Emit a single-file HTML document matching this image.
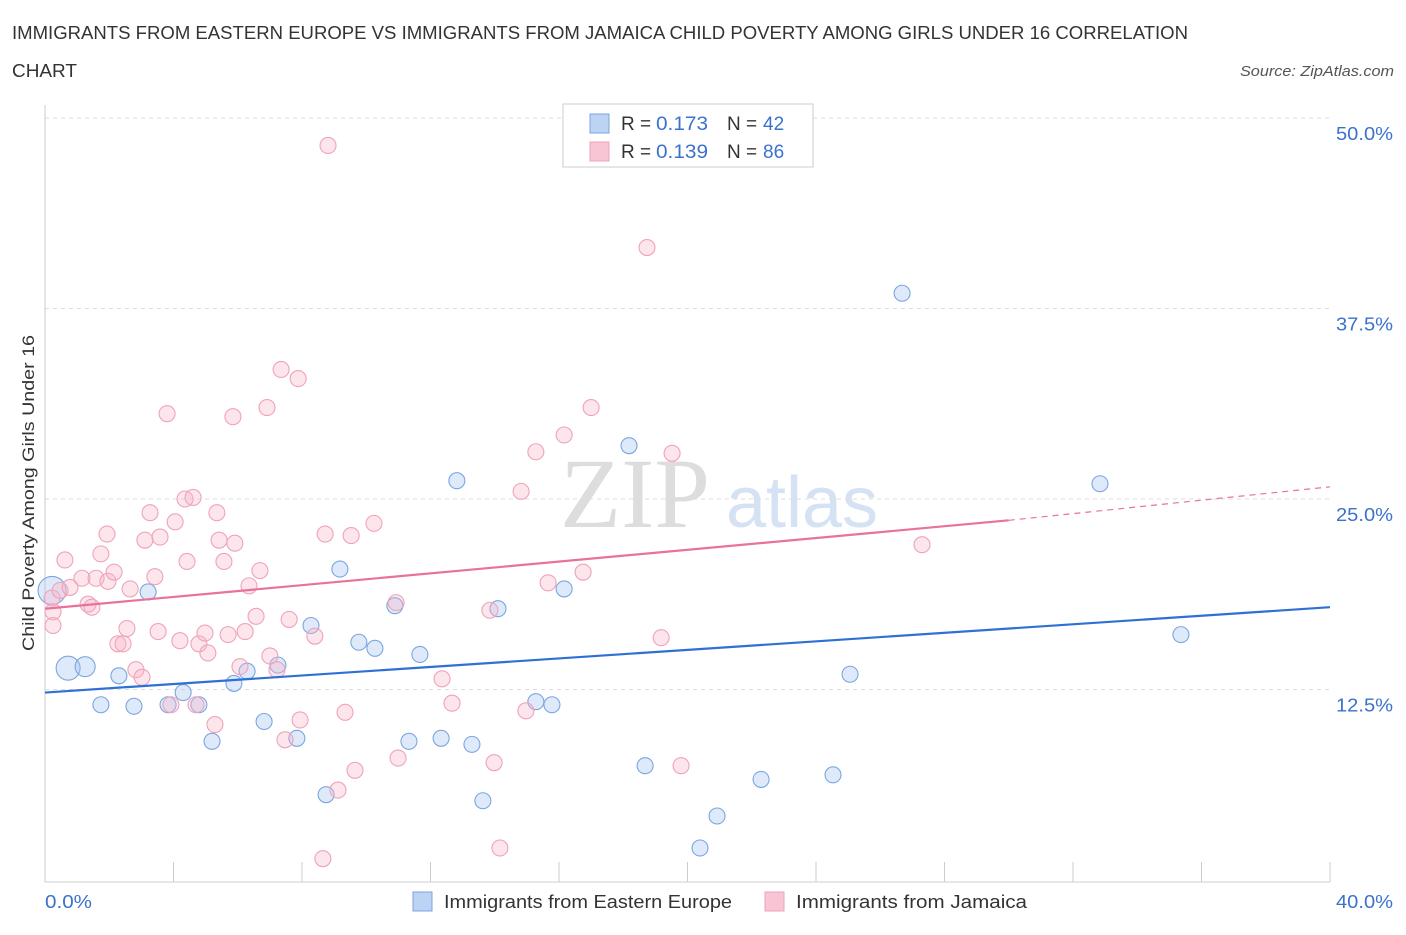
<!DOCTYPE html>
<html><head><meta charset="utf-8"><style>
body{margin:0;width:1406px;height:930px;background:#fff;font-family:"Liberation Sans",sans-serif;overflow:hidden}
</style></head><body>
<svg id="c" width="1406" height="930">
<text x="12" y="39" font-size="18" fill="#333" textLength="1176" lengthAdjust="spacingAndGlyphs">IMMIGRANTS FROM EASTERN EUROPE VS IMMIGRANTS FROM JAMAICA CHILD POVERTY AMONG GIRLS UNDER 16 CORRELATION</text>
<text x="12" y="77" font-size="18" fill="#333" textLength="65" lengthAdjust="spacingAndGlyphs">CHART</text>
<text x="1394" y="76" font-size="15" fill="#555" font-style="italic" text-anchor="end" textLength="154" lengthAdjust="spacingAndGlyphs">Source: ZipAtlas.com</text>
<text x="635" y="527" font-size="100" fill="#ddd" font-family="Liberation Serif,serif" text-anchor="middle">ZIP</text>
<text x="802" y="527" font-size="72" fill="#d4e2f3" text-anchor="middle">atlas</text>
<text transform="translate(34,493) rotate(-90)" font-size="17" fill="#333" text-anchor="middle" textLength="316" lengthAdjust="spacingAndGlyphs">Child Poverty Among Girls Under 16</text>
<text x="45" y="908" font-size="18" fill="#3a72cc" textLength="47" lengthAdjust="spacingAndGlyphs">0.0%</text>
<text x="1336" y="908" font-size="18" fill="#3a72cc" textLength="57" lengthAdjust="spacingAndGlyphs">40.0%</text>
<g id="grid"></g><g id="pts"></g><g id="lines"></g>
<g>
<rect x="563" y="104" width="250" height="63" fill="#fff" stroke="#ccc"/>
<rect x="590" y="114" width="19" height="19" fill="#bcd3f3" stroke="#7aa6e0"/>
<text x="621" y="130" font-size="19" fill="#333">R =</text>
<text x="656" y="130" font-size="19" fill="#3a72cc" textLength="52" lengthAdjust="spacingAndGlyphs">0.173</text>
<text x="727" y="130" font-size="19" fill="#333">N =</text>
<text x="763" y="130" font-size="19" fill="#3a72cc">42</text>
<rect x="590" y="142" width="19" height="19" fill="#f8c5d5" stroke="#eea3bb"/>
<text x="621" y="158" font-size="19" fill="#333">R =</text>
<text x="656" y="158" font-size="19" fill="#3a72cc" textLength="52" lengthAdjust="spacingAndGlyphs">0.139</text>
<text x="727" y="158" font-size="19" fill="#333">N =</text>
<text x="763" y="158" font-size="19" fill="#3a72cc">86</text>
</g>
<g>
<rect x="413" y="892" width="19" height="19" fill="#bcd3f3" stroke="#7aa6e0"/>
<text x="444" y="908" font-size="18" fill="#333" textLength="288" lengthAdjust="spacingAndGlyphs">Immigrants from Eastern Europe</text>
<rect x="765" y="892" width="19" height="19" fill="#f8c5d5" stroke="#eea3bb"/>
<text x="796" y="908" font-size="18" fill="#333" textLength="231" lengthAdjust="spacingAndGlyphs">Immigrants from Jamaica</text>
</g>
</svg>
<script>
const yTicks=[12.5,25,37.5,50];
const xTicks=[0,4,8,12,16,20,24,28,32,36,40];
const blueX=[0.22,0.72,1.25,1.74,2.30,2.77,3.21,3.83,4.30,4.79,5.20,5.88,6.29,6.82,7.25,7.84,8.28,8.75,9.18,9.77,10.27,10.89,11.33,11.67,12.33,12.82,13.29,13.63,14.10,15.28,15.78,16.16,18.18,18.68,20.39,20.92,22.29,24.53,25.06,26.68,32.84,35.36];
const blueY=[19.0,13.9,14.0,11.5,13.4,11.4,18.9,11.5,12.3,11.5,9.1,12.9,13.7,10.4,14.1,9.3,16.7,5.6,20.4,15.6,15.2,18.0,9.1,14.8,9.3,26.2,8.9,5.2,17.8,11.7,11.5,19.1,28.5,7.5,2.1,4.2,6.6,6.9,13.5,38.5,26.0,16.1];
const pinkX=[0.22,0.25,0.25,0.47,0.62,0.78,1.15,1.34,1.46,1.59,1.74,1.93,1.96,2.15,2.27,2.43,2.55,2.65,2.83,3.02,3.11,3.27,3.42,3.52,3.58,3.80,3.92,4.05,4.20,4.36,4.42,4.61,4.70,4.79,4.98,5.07,5.29,5.35,5.42,5.57,5.70,5.85,5.91,6.07,6.23,6.35,6.57,6.69,6.91,7.00,7.22,7.35,7.47,7.60,7.88,7.94,8.40,8.65,8.72,8.81,9.12,9.34,9.53,9.65,10.24,10.93,10.99,12.36,12.67,13.85,13.98,14.16,14.82,14.97,15.28,15.66,16.16,16.75,17.00,18.74,19.18,19.52,19.80,27.30];
const pinkY=[18.5,17.6,16.7,19.0,21.0,19.2,19.8,18.1,17.9,19.8,21.4,22.7,19.6,20.2,15.5,15.5,16.5,19.1,13.8,13.3,22.3,24.1,19.9,16.3,22.5,30.6,11.5,23.5,15.7,25.0,20.9,25.1,11.5,15.5,16.2,14.9,10.2,24.1,22.3,20.9,16.1,30.4,22.1,14.0,16.3,19.3,17.3,20.3,31.0,14.7,13.8,33.5,9.2,17.1,32.9,10.5,16.0,1.4,22.7,48.2,5.9,11.0,22.6,7.2,23.4,18.2,8.0,13.2,11.6,17.7,7.7,2.1,25.5,11.1,28.1,19.5,29.2,20.2,31.0,41.5,15.9,28.0,7.5,22.0];
const blueTrend=[12.3,17.9];
const pinkTrend=[17.8,23.6,25.8];
const NS='http://www.w3.org/2000/svg';
const X=v=>45+v*32.125, Y=v=>880-v*15.24;
function mk(t,a,p){const e=document.createElementNS(NS,t);for(const k in a)e.setAttribute(k,a[k]);p.appendChild(e);return e;}
const g=document.getElementById('grid');
yTicks.forEach(v=>{
 const l=mk('line',{x1:45,x2:1330,y1:Y(v),y2:Y(v),stroke:'#ddd','stroke-dasharray':'4,4'},g);
 
 
 const t=mk('text',{x:1393,y:Y(v)+22,'font-size':18,fill:'#3a72cc','text-anchor':'end',textLength:57,lengthAdjust:'spacingAndGlyphs'},g);t.textContent=v.toFixed(1)+'%';
 
 
});
mk('line',{x1:45,x2:45,y1:105,y2:882,stroke:'#ccc'},g);
mk('line',{x1:45,x2:1330,y1:882,y2:882,stroke:'#ccc'},g);
xTicks.forEach(v=>{
 const l=mk('line',{x1:X(v),x2:X(v),y1:862,y2:882,stroke:'#ccc'},g);
 
 
});
const p=document.getElementById('pts');
blueX.forEach((x,i)=>{
 const r=i==0?14:(i==1?12:(i==2?10:8));
 const c=mk('circle',{cx:X(x),cy:Y(blueY[i]),r:r,fill:'rgba(160,195,240,0.35)',stroke:'#7aa6e0','stroke-width':1.1},p);
 
 
});
pinkX.forEach((x,i)=>{
 const c=mk('circle',{cx:X(x),cy:Y(pinkY[i]),r:8,fill:'rgba(248,180,200,0.35)',stroke:'#eea3bb','stroke-width':1.1},p);
 
 
});
const L=document.getElementById('lines');
const bl=mk('line',{x1:X(0),y1:Y(blueTrend[0]),x2:X(40),y2:Y(blueTrend[1]),stroke:'#2f6fd6','stroke-width':2.2},L);


const pl=mk('line',{x1:X(0),y1:Y(pinkTrend[0]),x2:X(30),y2:Y(pinkTrend[1]),stroke:'#e8729a','stroke-width':2.2},L);


const pd=mk('line',{x1:X(30),y1:Y(pinkTrend[1]),x2:X(40),y2:Y(pinkTrend[2]),stroke:'#e8729a','stroke-width':1.2,'stroke-dasharray':'6,5'},L);


</script>
</body></html>
